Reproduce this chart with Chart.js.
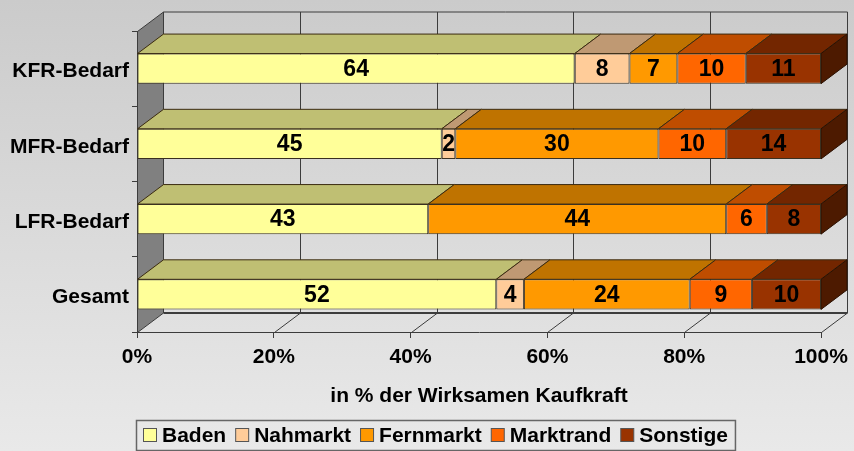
<!DOCTYPE html>
<html><head><meta charset="utf-8">
<style>
html,body{margin:0;padding:0;width:854px;height:451px;overflow:hidden;background:linear-gradient(to bottom,#cbcbcb 0%,#e9e9e9 100%);}
canvas{display:block;}
</style>
<script src="https://cdn.jsdelivr.net/npm/chart.js@4"></script>
</head><body><canvas id="c" width="854" height="451"></canvas>
<script>
const categories = ['KFR-Bedarf','MFR-Bedarf','LFR-Bedarf','Gesamt'];
const baden     = [64,45,43,52];
const nahmarkt  = [8,2,0,4];
const fernmarkt = [7,30,44,24];
const marktrand = [10,10,6,9];
const sonstige  = [11,14,8,10];
const seriesNames = ['Baden','Nahmarkt','Fernmarkt','Marktrand','Sonstige'];
const seriesColors = ['#FFFF99','#FFCC99','#FF9900','#FF6600','#993300'];
const xTicks = [0,20,40,60,80,100];
const axisTitle = 'in % der Wirksamen Kaufkraft';

const FAMILY = '"Liberation Sans", Arial, sans-serif';
const FONT = 'bold 21px ' + FAMILY;
const LABEL_FONT = 'bold 23px ' + FAMILY;
const fontOpt = {family:FAMILY,size:21,weight:'bold'};
const LINE = '#3c3c3c';
const DX = 26, DY = 19.5;
const raw = [baden,nahmarkt,fernmarkt,marktrand,sonstige];
const totals = categories.map((_,i)=>raw.reduce((s,a)=>s+a[i],0));

function shade(hex,f){
  const n=parseInt(hex.slice(1),16);
  const c=[n>>16,(n>>8)&255,n&255].map(v=>Math.round(v*f));
  return `rgb(${c[0]},${c[1]},${c[2]})`;
}
function poly(ctx,pts,fill,stroke){
  ctx.beginPath();
  pts.forEach((p,i)=>i?ctx.lineTo(p[0],p[1]):ctx.moveTo(p[0],p[1]));
  ctx.closePath();
  if(fill){ctx.fillStyle=fill;ctx.fill();}
  if(stroke){ctx.strokeStyle=stroke;ctx.lineWidth=1;ctx.stroke();}
}
function seg(ctx,x1,y1,x2,y2,w){
  ctx.beginPath();ctx.moveTo(x1,y1);ctx.lineTo(x2,y2);
  ctx.strokeStyle=LINE;ctx.lineWidth=w||1;ctx.stroke();
}

const depth3d = {
  id:'depth3d',
  beforeDraw(chart){
    const {ctx,chartArea:a,scales:{x}} = chart;
    ctx.save();
    const l=Math.round(a.left)+.5,r=Math.round(a.right)+.5,t=Math.round(a.top)+.5,b=Math.round(a.bottom)+.5;
    poly(ctx,[[l,t],[l+DX,t-DY],[l+DX,b-DY],[l,b]],'#808080',LINE);
    seg(ctx,l+DX,t-DY,r+DX,t-DY);
    seg(ctx,r+DX,t-DY,r+DX,b-DY);
    seg(ctx,l+DX,b-DY,r+DX,b-DY,2);
    xTicks.forEach(v=>{
      const px=Math.round(x.getPixelForValue(v))+.5;
      if(v>0 && v<100) seg(ctx,px+DX,t-DY,px+DX,b-DY);
      if(v>0) seg(ctx,px,b,px+DX,b-DY);
    });
    ctx.restore();
  },
  beforeDatasetsDraw(chart){
    const {ctx} = chart;
    ctx.save();
    chart.data.datasets.forEach((ds,di)=>{
      chart.getDatasetMeta(di).data.forEach((el,i)=>{
        if(!raw[di][i]) return;
        const top=el.y-el.height/2, bot=el.y+el.height/2;
        poly(ctx,[[el.base,top],[el.base+DX,top-DY],[el.x+DX,top-DY],[el.x,top]],shade(seriesColors[di],.75),'#3a2a10');
        if(di===raw.length-1)
          poly(ctx,[[el.x,top],[el.x+DX,top-DY],[el.x+DX,bot-DY],[el.x,bot]],shade(seriesColors[di],.5),'#2a1000');
      });
    });
    ctx.restore();
  },
  afterDatasetsDraw(chart){
    const {ctx} = chart;
    ctx.save();
    ctx.font=LABEL_FONT;ctx.fillStyle='#000';ctx.textAlign='center';ctx.textBaseline='middle';
    chart.data.datasets.forEach((ds,di)=>{
      chart.getDatasetMeta(di).data.forEach((el,i)=>{
        if(!raw[di][i]) return;
        ctx.fillText(String(raw[di][i]),(el.x+el.base)/2,el.y+1);
      });
    });
    ctx.restore();
  },
  afterDraw(chart){
    const {ctx} = chart;
    ctx.save();
    ctx.font=FONT;ctx.textBaseline='middle';ctx.textAlign='left';
    const boxLeft=136.5,boxTop=420.5,boxH=30;
    let x=boxLeft+7;
    chart.data.datasets.forEach((ds,i)=>{
      ctx.fillStyle=ds.backgroundColor;ctx.strokeStyle='#555';ctx.lineWidth=1;
      ctx.fillRect(x,boxTop+8,13,13);ctx.strokeRect(x,boxTop+8,13,13);
      ctx.fillStyle='#000';
      ctx.fillText(ds.label,x+18.5,boxTop+boxH/2+1);
      x+=18.5+ctx.measureText(ds.label).width+9.5;
    });
    ctx.strokeStyle='#666';ctx.lineWidth=1.5;
    ctx.strokeRect(boxLeft,boxTop,x-boxLeft-2,boxH);
    ctx.restore();
  }
};

new Chart(document.getElementById('c'),{
  type:'bar',
  data:{
    labels:categories,
    datasets:seriesNames.map((name,di)=>({
      label:name,
      data:raw[di].map((v,i)=>v?v/totals[i]*100:null),
      backgroundColor:seriesColors[di],
      borderColor:'#3a3020',
      borderWidth:1,
      borderSkipped:false,
      barPercentage:.4,
      categoryPercentage:1
    }))
  },
  options:{
    indexAxis:'y',
    responsive:false,
    animation:false,
    layout:{padding:{left:0,right:33,top:31,bottom:0}},
    plugins:{legend:{display:false},tooltip:{enabled:false},title:{display:false}},
    scales:{
      x:{
        stacked:true,min:0,max:100,
        afterBuildTicks(s){s.ticks=xTicks.map(v=>({value:v}));},
        afterFit(s){s.height=119;s.paddingLeft=0;s.paddingRight=0;},
        ticks:{color:'#000',font:fontOpt,padding:7,maxRotation:0,autoSkip:false,callback:v=>v+'%'},
        grid:{drawOnChartArea:false,tickLength:6,color:LINE},
        border:{color:LINE},
        title:{display:true,text:axisTitle,color:'#000',font:fontOpt,padding:{top:0,bottom:42}}
      },
      y:{
        stacked:true,
        afterFit(s){s.width=137;s.paddingTop=0;s.paddingBottom=0;},
        ticks:{color:'#000',font:fontOpt,padding:3,autoSkip:false,labelOffset:3},
        grid:{drawOnChartArea:false,tickLength:5,color:LINE},
        border:{color:LINE}
      }
    }
  },
  plugins:[depth3d]
});
</script></body></html>
